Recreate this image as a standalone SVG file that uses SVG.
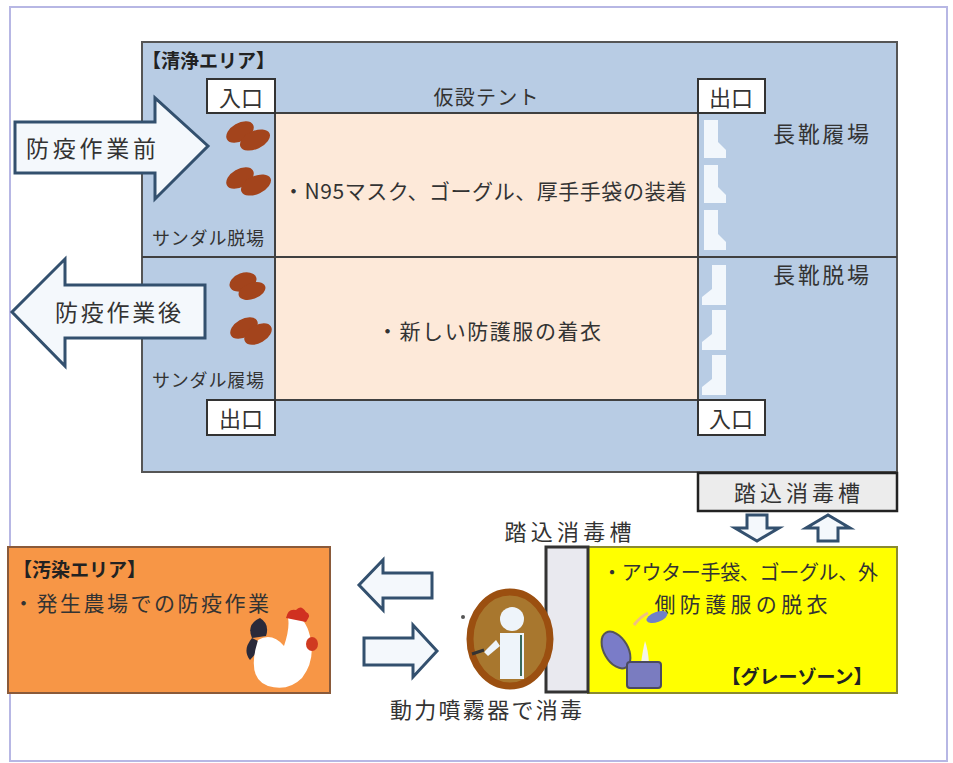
<svg xmlns="http://www.w3.org/2000/svg" width="953" height="763" viewBox="0 0 953 763">
  <defs>
    <style>
      text { font-family: "Noto Sans CJK JP", "Noto Sans", sans-serif; fill: #333333; }
      .b { font-weight: bold; fill: #222222; }
      .box { fill: #ffffff; stroke: #333333; stroke-width: 2; }
      .line { stroke: #404040; stroke-width: 2; fill: none; }
      .blk { fill: #f4f8fc; stroke: #33506e; stroke-width: 3; stroke-linejoin: miter; }
      .sandal { fill: #a3441c; }
      .boot { fill: #f2f7fc; }
    </style>
    <linearGradient id="arrowFill" x1="0" y1="0" x2="1" y2="0">
      <stop offset="0" stop-color="#f4f8fc"/>
      <stop offset="1" stop-color="#ffffff"/>
    </linearGradient>
  </defs>

  <rect width="953" height="763" fill="#ffffff"/>
  <!-- outer frame -->
  <rect x="10" y="7" width="937" height="754" fill="none" stroke="#b7b7e4" stroke-width="2"/>

  <!-- clean area -->
  <g id="clean-area">
    <rect x="142" y="42" width="755" height="430" fill="#b8cce4" stroke="#555555" stroke-width="2"/>
    <rect x="275" y="113" width="423" height="287" fill="#fde9d9"/>
    <line class="line" x1="275" y1="113" x2="698" y2="113"/>
    <line class="line" x1="275" y1="400" x2="698" y2="400"/>
    <line class="line" x1="142" y1="257" x2="897" y2="257"/>
    <line class="line" x1="275" y1="80" x2="275" y2="435"/>
    <line class="line" x1="698" y1="80" x2="698" y2="435"/>
    <text x="142" y="68" font-size="19" class="b">【清浄エリア】</text>
    <text x="486" y="105" font-size="20" text-anchor="middle" textLength="105">仮設テント</text>
    <text x="485" y="199" font-size="21" text-anchor="middle" textLength="404">・N95マスク、ゴーグル、厚手手袋の装着</text>
    <text x="489" y="339" font-size="21" text-anchor="middle" textLength="224">・新しい防護服の着衣</text>
    <text x="208" y="245" font-size="18" text-anchor="middle" textLength="112">サンダル脱場</text>
    <text x="208" y="387" font-size="18" text-anchor="middle" textLength="112">サンダル履場</text>
    <text x="821" y="142" font-size="22" text-anchor="middle" textLength="96">長靴履場</text>
    <text x="821" y="283" font-size="22" text-anchor="middle" textLength="96">長靴脱場</text>
  </g>

  <!-- doors -->
  <g id="door-in-top">
    <rect class="box" x="207" y="79" width="68" height="34"/>
    <text x="241" y="106" font-size="22" text-anchor="middle">入口</text>
  </g>
  <g id="door-out-top">
    <rect class="box" x="698" y="79" width="67" height="34"/>
    <text x="731" y="106" font-size="22" text-anchor="middle">出口</text>
  </g>
  <g id="door-out-bottom">
    <rect class="box" x="207" y="400" width="68" height="35"/>
    <text x="241" y="427" font-size="22" text-anchor="middle">出口</text>
  </g>
  <g id="door-in-bottom">
    <rect class="box" x="698" y="400" width="67" height="35"/>
    <text x="731" y="427" font-size="22" text-anchor="middle">入口</text>
  </g>

  <!-- sandals -->
  <g id="sandals">
    <ellipse class="sandal" cx="240" cy="132" rx="15" ry="9" transform="rotate(-30 240 132)"/>
    <ellipse class="sandal" cx="255" cy="140" rx="16" ry="9" transform="rotate(-25 255 140)"/>
    <ellipse class="sandal" cx="240" cy="178" rx="15" ry="9" transform="rotate(-30 240 178)"/>
    <ellipse class="sandal" cx="256" cy="185" rx="16" ry="9" transform="rotate(-25 256 185)"/>
    <ellipse class="sandal" cx="243" cy="282" rx="14" ry="9" transform="rotate(-20 243 282)"/>
    <ellipse class="sandal" cx="252" cy="291" rx="14" ry="8" transform="rotate(-20 252 291)"/>
    <ellipse class="sandal" cx="244" cy="328" rx="15" ry="9" transform="rotate(-30 244 328)"/>
    <ellipse class="sandal" cx="258" cy="334" rx="15" ry="9" transform="rotate(-30 258 334)"/>
  </g>

  <!-- boots -->
  <g id="boots">
    <path class="boot" d="M704 120 h14 v22 l8 8 v8 h-22 z"/>
    <path class="boot" d="M704 165 h14 v22 l8 8 v8 h-22 z"/>
    <path class="boot" d="M704 210 h14 v24 l8 8 v8 h-22 z"/>
    <path class="boot" d="M712 265 h14 v40 h-24 v-8 l10 -8 z"/>
    <path class="boot" d="M712 310 h14 v40 h-24 v-8 l10 -8 z"/>
    <path class="boot" d="M712 355 h14 v40 h-24 v-8 l10 -8 z"/>
  </g>

  <!-- entry / exit arrows -->
  <g id="arrow-before">
    <path class="blk" fill="url(#arrowFill)" d="M15 122 H155 V98 L208 146 L155 199 V173 H15 Z"/>
    <text x="91" y="157" font-size="23" text-anchor="middle" textLength="130">防疫作業前</text>
  </g>
  <g id="arrow-after">
    <path class="blk" d="M205 285 H65 V259 L12 312 L65 366 V338 H205 Z"/>
    <text x="118" y="321" font-size="23" text-anchor="middle" textLength="126">防疫作業後</text>
  </g>

  <!-- footbath at tent entrance -->
  <g id="footbath-top">
    <rect x="698" y="473" width="199" height="38" fill="#ececec" stroke="#222222" stroke-width="2.5"/>
    <text x="797" y="501" font-size="22" text-anchor="middle" textLength="126">踏込消毒槽</text>
  </g>

  <!-- gray zone -->
  <g id="gray-zone">
    <rect x="588" y="547" width="309" height="146" fill="#ffff00" stroke="#8a8a30" stroke-width="2"/>
    <text x="602" y="580" font-size="20" textLength="276">・アウター手袋、ゴーグル、外</text>
    <text x="741" y="612" font-size="21" text-anchor="middle" textLength="173">側防護服の脱衣</text>
    <text x="797" y="684" font-size="19" class="b" text-anchor="middle">【グレーゾーン】</text>
    <!-- trash bin -->
    <ellipse cx="616" cy="650" rx="12" ry="20" fill="#7a7cc8" stroke="#555555" stroke-width="2" transform="rotate(-30 616 650)"/>
    <path d="M634 625 q6 -8 14 -12" stroke="#f0c080" stroke-width="3" fill="none"/>
    <ellipse cx="657" cy="617" rx="11" ry="5" fill="#7080c8" transform="rotate(-20 657 617)"/>
    <path d="M641 663 q2 -14 4 -22 q3 8 4 22 z" fill="#f4f4e8"/>
    <rect x="627" y="662" width="34" height="26" rx="3" fill="#7a7cc0" stroke="#4a4a60" stroke-width="2"/>
  </g>

  <!-- footbath by gray zone -->
  <g id="footbath-side">
    <rect x="546" y="547" width="42" height="145" fill="#e9e9ef" stroke="#333333" stroke-width="3"/>
    <text x="568" y="540" font-size="22" text-anchor="middle" textLength="127">踏込消毒槽</text>
  </g>

  <!-- contaminated area -->
  <g id="dirty-area">
    <rect x="8" y="547" width="322" height="146" fill="#f79646" stroke="#8a5a3a" stroke-width="2"/>
    <text x="13" y="577" font-size="19" class="b">【汚染エリア】</text>
    <text x="13" y="611" font-size="21" textLength="256">・発生農場での防疫作業</text>
    <!-- hen -->
    <path d="M252 638 q-6 -14 8 -20 q10 6 6 18 z" fill="#2a2a3a"/>
    <path d="M250 660 q-8 -10 2 -22 l12 6 z" fill="#2a2a3a"/>
    <path d="M258 640 q14 -8 26 6 q6 -18 4 -28 q16 -6 22 18 q6 24 -8 42 q-14 14 -34 8 q-22 -8 -10 -46 z" fill="#ffffff"/>
    <path d="M286 618 q2 -10 10 -8 q5 -6 10 2 q6 2 0 10 z" fill="#d03020"/>
    <ellipse cx="312" cy="644" rx="6" ry="7" fill="#d03a20"/>
  </g>

  <!-- sprayer -->
  <g id="sprayer">
    <ellipse cx="510" cy="639" rx="40" ry="47" fill="#a8772e" stroke="#9b4f10" stroke-width="7"/>
    <circle cx="512" cy="619" r="12" fill="#eef4fa"/>
    <path d="M500 633 h24 v46 h-24 z" fill="#eef4fa"/>
    <path d="M496 640 l-12 12 l4 4 l12 -10 z" fill="#eef4fa"/>
    <path d="M484 650 l-12 4" stroke="#333333" stroke-width="3"/>
    <line x1="521" y1="635" x2="521" y2="676" stroke="#3a6a5a" stroke-width="2"/>
    <circle cx="463" cy="617" r="2" fill="#555555"/>
    <text x="486" y="718" font-size="22" text-anchor="middle" textLength="192">動力噴霧器で消毒</text>
  </g>

  <!-- flow arrows -->
  <g id="connectors">
    <path class="blk" d="M432 573 H383 V560 L359 585 L383 610 V598 H432 Z"/>
    <path class="blk" d="M364 638 H413 V625 L437 651 L413 677 V665 H364 Z"/>
    <path class="blk" d="M747 515 H767 V528 H779 L757 541 L735 528 H747 Z"/>
    <path class="blk" d="M818 541 H838 V528 H850 L828 515 L806 528 H818 Z"/>
  </g>
</svg>
